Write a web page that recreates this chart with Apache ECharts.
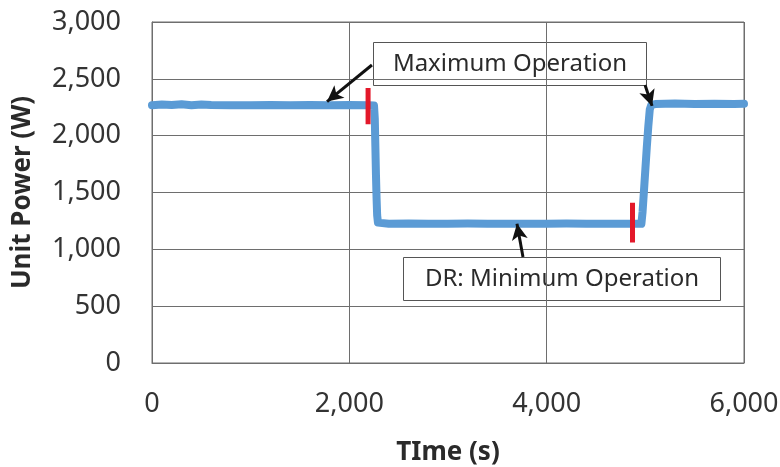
<!DOCTYPE html>
<html>
<head>
<meta charset="utf-8">
<script src="https://cdn.jsdelivr.net/npm/echarts@6/dist/echarts.min.js"></script>
<style>html,body{margin:0;padding:0;background:#fff;}#c{width:780px;height:467px;}</style>
</head>
<body>
<div id="c"></div>
<script>
// ---- data ----
var timeSec = [0,100,200,300,400,500,600,800,1000,1200,1400,1600,1800,2000,2200,2250,2258,2264,2270,2276,2282,2290,2300,2400,2600,2800,3000,3200,3400,3600,3800,4000,4200,4400,4600,4800,4960,4972,4985,5000,5015,5030,5045,5060,5100,5300,5500,5700,5900,6000];
var unitPower = [2268,2274,2270,2276,2268,2274,2270,2268,2268,2270,2268,2270,2268,2270,2268,2266,2150,1900,1650,1450,1300,1235,1228,1225,1227,1225,1226,1227,1225,1226,1226,1225,1227,1226,1225,1226,1225,1330,1500,1700,1900,2080,2230,2270,2278,2282,2278,2280,2278,2280];
var marker1Time = [2190, 2190];
var marker1Power = [2100, 2420];
var marker2Time = [4870, 4870];
var marker2Power = [1060, 1410];
var xTicks = [0, 2000, 4000, 6000];
var yTicks = [0, 500, 1000, 1500, 2000, 2500, 3000];
var annMaxText = 'Maximum Operation';
var annMinText = 'DR: Minimum Operation';
// arrows: [fromTime, fromPower, toTime, toPower]
var arrowMaxA = [2229, 2622, 1774, 2300];
var arrowMaxB = [4997, 2446, 5068, 2262];
var arrowMin = [3760, 933, 3699, 1225];

function zip(a, b) { return a.map(function (v, i) { return [v, b[i]]; }); }

var chart = echarts.init(document.getElementById('c'));
var font = "'Noto Sans', 'Open Sans', sans-serif";
var gridColor = '#6e6e6e';
function arrowLine(a) {
  return [{ coord: [a[0], a[1]] }, { coord: [a[2], a[3]] }];
}
chart.setOption({
  animation: false,
  backgroundColor: '#fff',
  grid: { left: 152, right: 36, top: 22, bottom: 104, show: true, borderColor: gridColor, borderWidth: 1,
    containLabel: false, outerBoundsMode: 'none' },
  xAxis: {
    type: 'value', min: xTicks[0], max: xTicks[xTicks.length - 1], interval: 2000,
    name: 'TIme (s)', nameLocation: 'middle', nameGap: 77,
    nameTextStyle: { fontFamily: font, fontSize: 26, fontWeight: 'bold', color: '#2a2a2a' },
    axisLine: { show: true, lineStyle: { color: gridColor, width: 1 } },
    axisTick: { show: false },
    splitLine: { show: true, lineStyle: { color: gridColor, width: 1 } },
    axisLabel: { fontFamily: font, fontSize: 27, color: '#333', margin: 28,
      formatter: function (v) { return v.toLocaleString('en-US'); } }
  },
  yAxis: {
    type: 'value', min: yTicks[0], max: yTicks[yTicks.length - 1], interval: 500,
    name: 'Unit Power (W)', nameLocation: 'middle', nameGap: 116,
    nameTextStyle: { fontFamily: font, fontSize: 26, fontWeight: 'bold', color: '#2a2a2a' },
    axisLine: { show: true, lineStyle: { color: gridColor, width: 1 } },
    axisTick: { show: false },
    splitLine: { show: true, lineStyle: { color: gridColor, width: 1 } },
    axisLabel: { fontFamily: font, fontSize: 27, color: '#333', margin: 31,
      formatter: function (v) { return v.toLocaleString('en-US'); } }
  },
  series: [
    {
      type: 'line', data: zip(timeSec, unitPower), showSymbol: false,
      lineStyle: { color: '#5B9BD5', width: 8, cap: 'round', join: 'round' },
      z: 3,
      markLine: {
        silent: true, symbol: ['none', 'arrow'], symbolSize: [12, 16],
        lineStyle: { color: '#111', width: 3, type: 'solid' },
        label: { show: false },
        data: [arrowLine(arrowMaxA), arrowLine(arrowMaxB), arrowLine(arrowMin)]
      }
    },
    {
      type: 'line', data: zip(marker1Time, marker1Power), showSymbol: false,
      lineStyle: { color: '#e3182a', width: 5 }, z: 4
    },
    {
      type: 'line', data: zip(marker2Time, marker2Power), showSymbol: false,
      lineStyle: { color: '#e3182a', width: 5 }, z: 4
    }
  ],
  graphic: [
    {
      type: 'group', left: 373, top: 42, z: 100,
      children: [
        { type: 'rect', shape: { x: 0, y: 0, width: 273, height: 43 }, style: { fill: '#fff', stroke: '#555', lineWidth: 1 } },
        { type: 'text', x: 136.5, y: 21.5, style: { text: annMaxText, fontFamily: font, fontSize: 24, fill: '#2a2a2a', align: 'center', verticalAlign: 'middle' } }
      ]
    },
    {
      type: 'group', left: 403, top: 257, z: 100,
      children: [
        { type: 'rect', shape: { x: 0, y: 0, width: 317, height: 43 }, style: { fill: '#fff', stroke: '#555', lineWidth: 1 } },
        { type: 'text', x: 158.5, y: 21.5, style: { text: annMinText, fontFamily: font, fontSize: 24, fill: '#2a2a2a', align: 'center', verticalAlign: 'middle' } }
      ]
    }
  ]
});
</script>
</body>
</html>
